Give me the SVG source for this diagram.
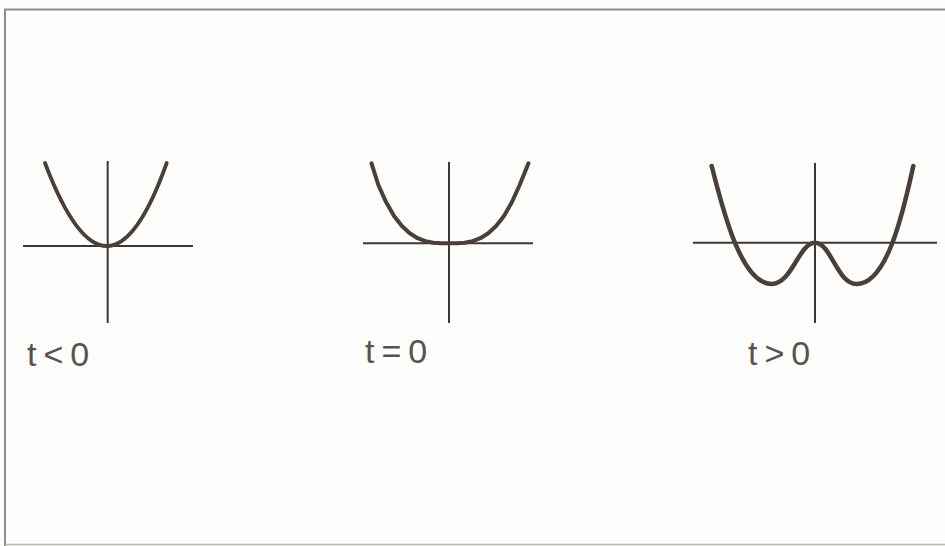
<svg xmlns="http://www.w3.org/2000/svg" width="945" height="546" viewBox="0 0 945 546">
<style>
.frame{fill:none;stroke:#8f8d88;stroke-width:2}
.axis{fill:none;stroke:#3e3633;stroke-width:2}
.curve{fill:none;stroke:#4a3f3a;stroke-linecap:round;stroke-linejoin:round}
.lbl{font-family:"Liberation Sans",Arial,sans-serif;font-size:34px;fill:#5a514c;letter-spacing:7px}
</style>
<rect width="945" height="546" fill="#fdfdfb"/>
<path class="frame" d="M5,546 V9.5 H945"/>
<path d="M5,544.5 H945" stroke="#b8b6b0" stroke-width="1.5" fill="none"/>
<g id="panel-t-neg">
<line class="axis" x1="23" y1="246" x2="193" y2="246"/>
<line class="axis" x1="107.7" y1="161" x2="107.7" y2="323"/>
<path class="curve" stroke-width="3.8" d="M45,163 Q107.7,329 166.7,163"/>
<text class="lbl" x="27" y="366">t&lt;0</text>
</g>
<g id="panel-t-zero">
<line class="axis" x1="363" y1="243.3" x2="533" y2="243.3"/>
<line class="axis" x1="449" y1="162" x2="449" y2="323"/>
<path class="curve" stroke-width="4" d="M371.5,163.3 L378.35,185 L386.2,202.3 L394.05,215.9 L401.9,226 L409.75,233.3 L417.6,238.2 L425.45,241.1 L433.3,242.7 L441.15,243.2 L449,243.3 L456.85,243.2 L464.7,242.7 L472.55,241.1 L480.4,238.2 L488.25,233.3 L496.1,226 L503.95,215.9 L511.8,202.3 L519.65,185 L528.5,163.3"/>
<text class="lbl" x="365" y="363">t=0</text>
</g>
<g id="panel-t-pos">
<line class="axis" x1="693" y1="242.7" x2="937" y2="242.7"/>
<line class="axis" x1="815" y1="163" x2="815" y2="323"/>
<path class="curve" stroke-width="4.5" d="M711.7,166 C724,215 742,284 771.7,284 C792,284 799,242.7 815,242.7 C831,242.7 837,284 856.7,284 C886,284 902,218 913.3,166"/>
<text class="lbl" x="748" y="365">t&gt;0</text>
</g>
</svg>
